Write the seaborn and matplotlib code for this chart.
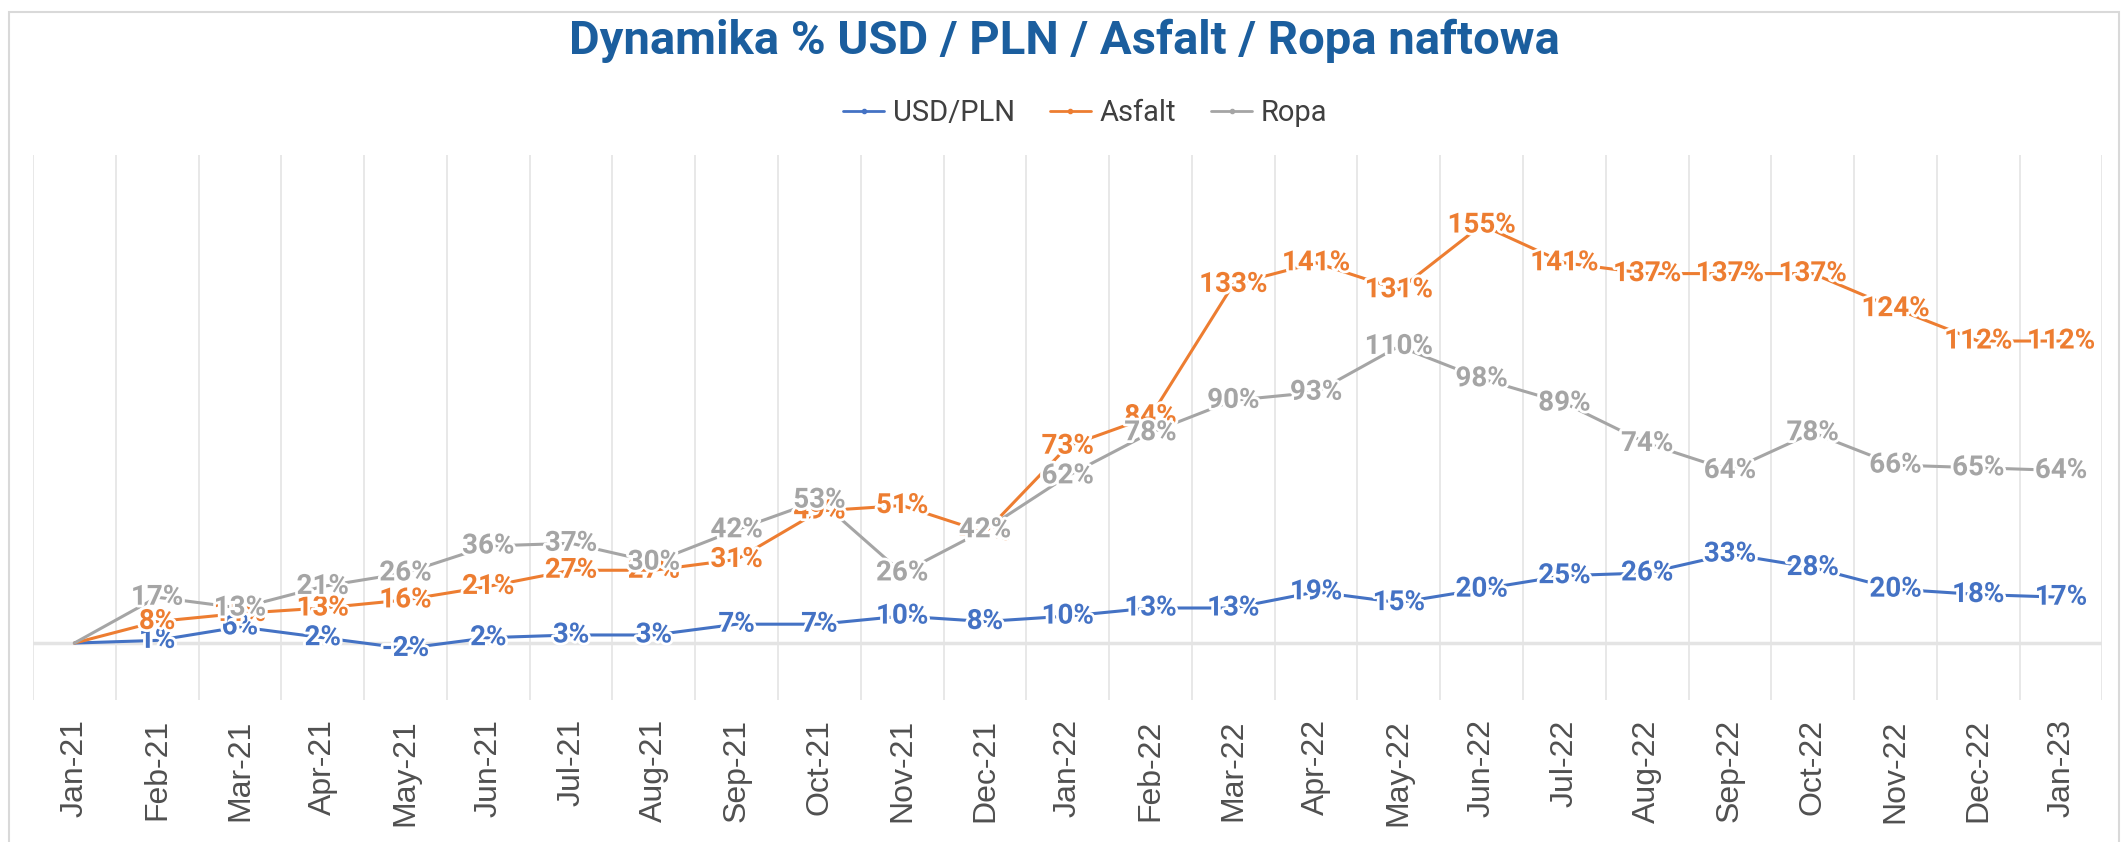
import numpy as np
import pandas as pd
import matplotlib
matplotlib.use("Agg")
import matplotlib.pyplot as plt
import matplotlib.patheffects as pe
from matplotlib.patches import Rectangle
from matplotlib.lines import Line2D
import seaborn as sns

months = ["Jan-21", "Feb-21", "Mar-21", "Apr-21", "May-21", "Jun-21", "Jul-21", "Aug-21",
          "Sep-21", "Oct-21", "Nov-21", "Dec-21", "Jan-22", "Feb-22", "Mar-22", "Apr-22",
          "May-22", "Jun-22", "Jul-22", "Aug-22", "Sep-22", "Oct-22", "Nov-22", "Dec-22", "Jan-23"]
usd_pln = [0, 1, 6, 2, -2, 2, 3, 3, 7, 7, 10, 8, 10, 13, 13, 19, 15, 20, 25, 26, 33, 28, 20, 18, 17]
asfalt = [0, 8, 11, 13, 16, 21, 27, 27, 31, 49, 51, 41, 73, 84, 133, 141, 131, 155, 141, 137, 137, 137, 124, 112, 112]
ropa = [0, 17, 13, 21, 26, 36, 37, 30, 42, 53, 26, 42, 62, 78, 90, 93, 110, 98, 89, 74, 64, 78, 66, 65, 64]
series_names = ["USD/PLN", "Asfalt", "Ropa"]
colors = ["#4472C4", "#ED7D31", "#A5A5A5"]
title = "Dynamika % USD / PLN / Asfalt / Ropa naftowa"

sns.set_theme(style="white")
plt.rcParams["font.family"] = ["Liberation Sans", "DejaVu Sans"]
narrow = ["Roboto", "DejaVu Sans"]

df = pd.DataFrame({
    "month": months * 3,
    "value": usd_pln + asfalt + ropa,
    "series": [s for s in series_names for _ in months],
})

fig = plt.figure(figsize=(21.28, 8.42), dpi=100)
ax = fig.add_axes([0.0155, 0.169, 0.9725, 0.647])

sns.lineplot(data=df, x="month", y="value", hue="series", palette=colors,
             hue_order=series_names, sort=False, linewidth=2.2, ax=ax, legend=False)

# data labels centred on the points
for vals, c in zip([usd_pln, asfalt, ropa], colors):
    for i, v in enumerate(vals):
        if i == 0:
            continue
        ax.text(i, v, f"{v}%", ha="center", va="center", color=c, fontsize=20,
                fontweight="bold", family=narrow, zorder=5,
                path_effects=[pe.withStroke(linewidth=4, foreground="white")])

ax.set_xlim(-0.5, len(months) - 0.5)
ax.set_ylim(-21, 181)
ax.set_yticks([])
ax.set_xticks(range(len(months)))
ax.set_xticklabels(months, rotation=90, fontsize=23, color="#505050")
ax.tick_params(axis="x", length=0, pad=14)
ax.set_xticks(np.arange(-0.5, len(months), 1), minor=True)
ax.tick_params(axis="x", which="minor", length=0)
ax.grid(False)
ax.grid(which="minor", axis="x", color="#E4E4E4", linewidth=1.2)
ax.axhline(0, color="#E4E4E4", linewidth=2.5, zorder=0)
for s in ax.spines.values():
    s.set_visible(False)
ax.set_xlabel("")
ax.set_ylabel("")

fig.text(0.5, 0.951, title, ha="center", va="center", fontsize=34, fontweight="bold",
         color="#1B5E9E", family=narrow)

handles = [Line2D([0], [0], color=c, lw=2, marker="o", markersize=3) for c in colors]
fig.legend(handles, series_names, loc="center", bbox_to_anchor=(0.51, 0.866), ncol=3,
           frameon=False, handlelength=1.4, columnspacing=1.2,
           handletextpad=0.3, labelcolor="#404040", prop={"family": narrow, "size": 21})

fig.patches.append(Rectangle((0.004, -0.1), 0.992, 1.086, transform=fig.transFigure,
                             fill=False, edgecolor="#D9D9D9", linewidth=1.5))

fig.savefig("out.png", dpi=100, facecolor="white")
